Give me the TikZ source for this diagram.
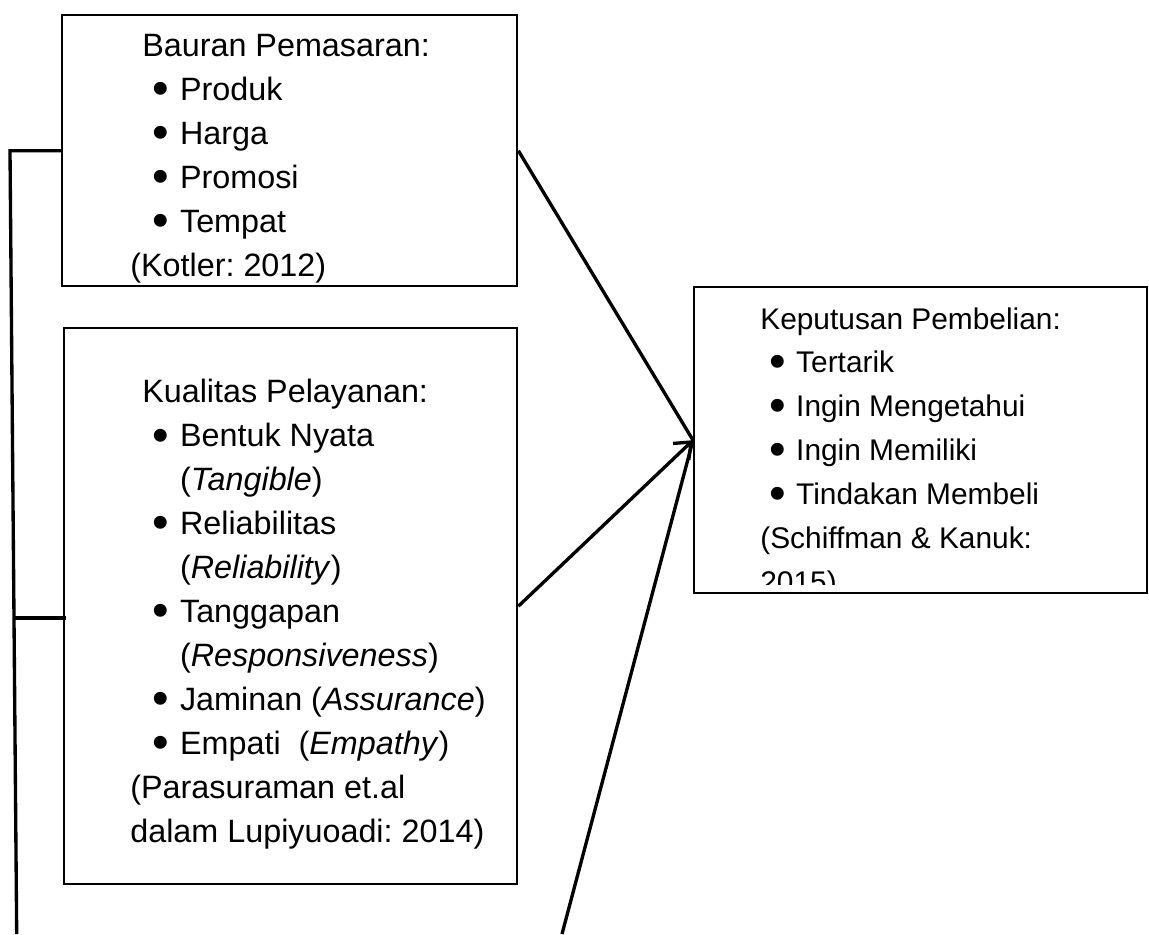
\documentclass[tikz,border=0pt]{standalone}
\usepackage{fontspec}
\setmainfont{Liberation Sans}
\usetikzlibrary{arrows.meta,calc}
\frenchspacing
\newcommand{\blt}[1]{\makebox[#1][r]{\raisebox{-2.5pt}{\fontsize{27}{27}\selectfont\textbullet}\hspace{6pt}}}

\begin{document}
\begin{tikzpicture}[x=0.02cm,y=-0.02cm,
  font=\fontsize{18.4}{25}\selectfont,
  box/.style={draw,line width=1.4pt,anchor=north west,inner sep=0pt},
  txt/.style={anchor=north west,align=left,inner sep=0pt},
  link/.style={line width=1.9pt},
  arr/.style={line width=1.9pt,-{Straight Barb[length=8pt,width=13pt]}}]
\useasboundingbox (0,0) rectangle (1149,934);
% the three boxes
\node[box,minimum width=9.1cm,minimum height=5.42cm] (mix) at (61,14) {};
\node[box,minimum width=9.06cm,minimum height=11.12cm] (svc) at (63,327) {};
\node[box,minimum width=9.06cm,minimum height=6.12cm] (buy) at (693,286) {};
% box texts
\node[txt] (mixtext) at (130,34) {\hspace*{6.8pt}Bauran Pemasaran:\\
  \blt{28.3pt}Produk\\ \blt{28.3pt}Harga\\ \blt{28.3pt}Promosi\\ \blt{28.3pt}Tempat\\
  (Kotler: 2012)};
\node[txt] (svctext) at (130,379) {\hspace*{6.8pt}Kualitas Pelayanan:\\
  \blt{28.3pt}Bentuk Nyata\\ \hspace*{28.3pt}(\textit{Tangible})\\
  \blt{28.3pt}Reliabilitas\\ \hspace*{28.3pt}(\textit{Reliability})\\
  \blt{28.3pt}Tanggapan\\ \hspace*{28.3pt}(\textit{Responsiveness})\\
  \blt{28.3pt}Jaminan (\textit{Assurance})\\
  \blt{28.3pt}Empati\ \ (\textit{Empathy})\\
  (Parasuraman et.al\\ dalam Lupiyuoadi: 2014)};
\begin{scope}
  \clip (buy.north west) rectangle (1146,584);
  \node[txt,font=\fontsize{17}{25}\selectfont] (buytext) at (760,307) {Keputusan Pembelian:\\
    \blt{20.4pt}Tertarik\\ \blt{20.4pt}Ingin Mengetahui\\ \blt{20.4pt}Ingin Memiliki\\
    \blt{20.4pt}Tindakan Membeli\\ (Schiffman \& Kanuk:\\ 2015)};
\end{scope}
% connectors
\coordinate (bustop) at (10,151);
\coordinate (busmid) at (14,618);
\coordinate (busend) at (16.7,934);
\coordinate (tail) at (562,934);
\draw[link] (mix.west) -- (bustop |- mix.west) -- (busend);
\draw[link] (busmid) -- ($(busmid -| svc.west)+(3,0)$);
\draw[link] (mix.east) -- (buy.west);
\draw[arr] (svc.east) -- (buy.west);
\draw[link] (tail) -- (buy.west);
\end{tikzpicture}
\end{document}
